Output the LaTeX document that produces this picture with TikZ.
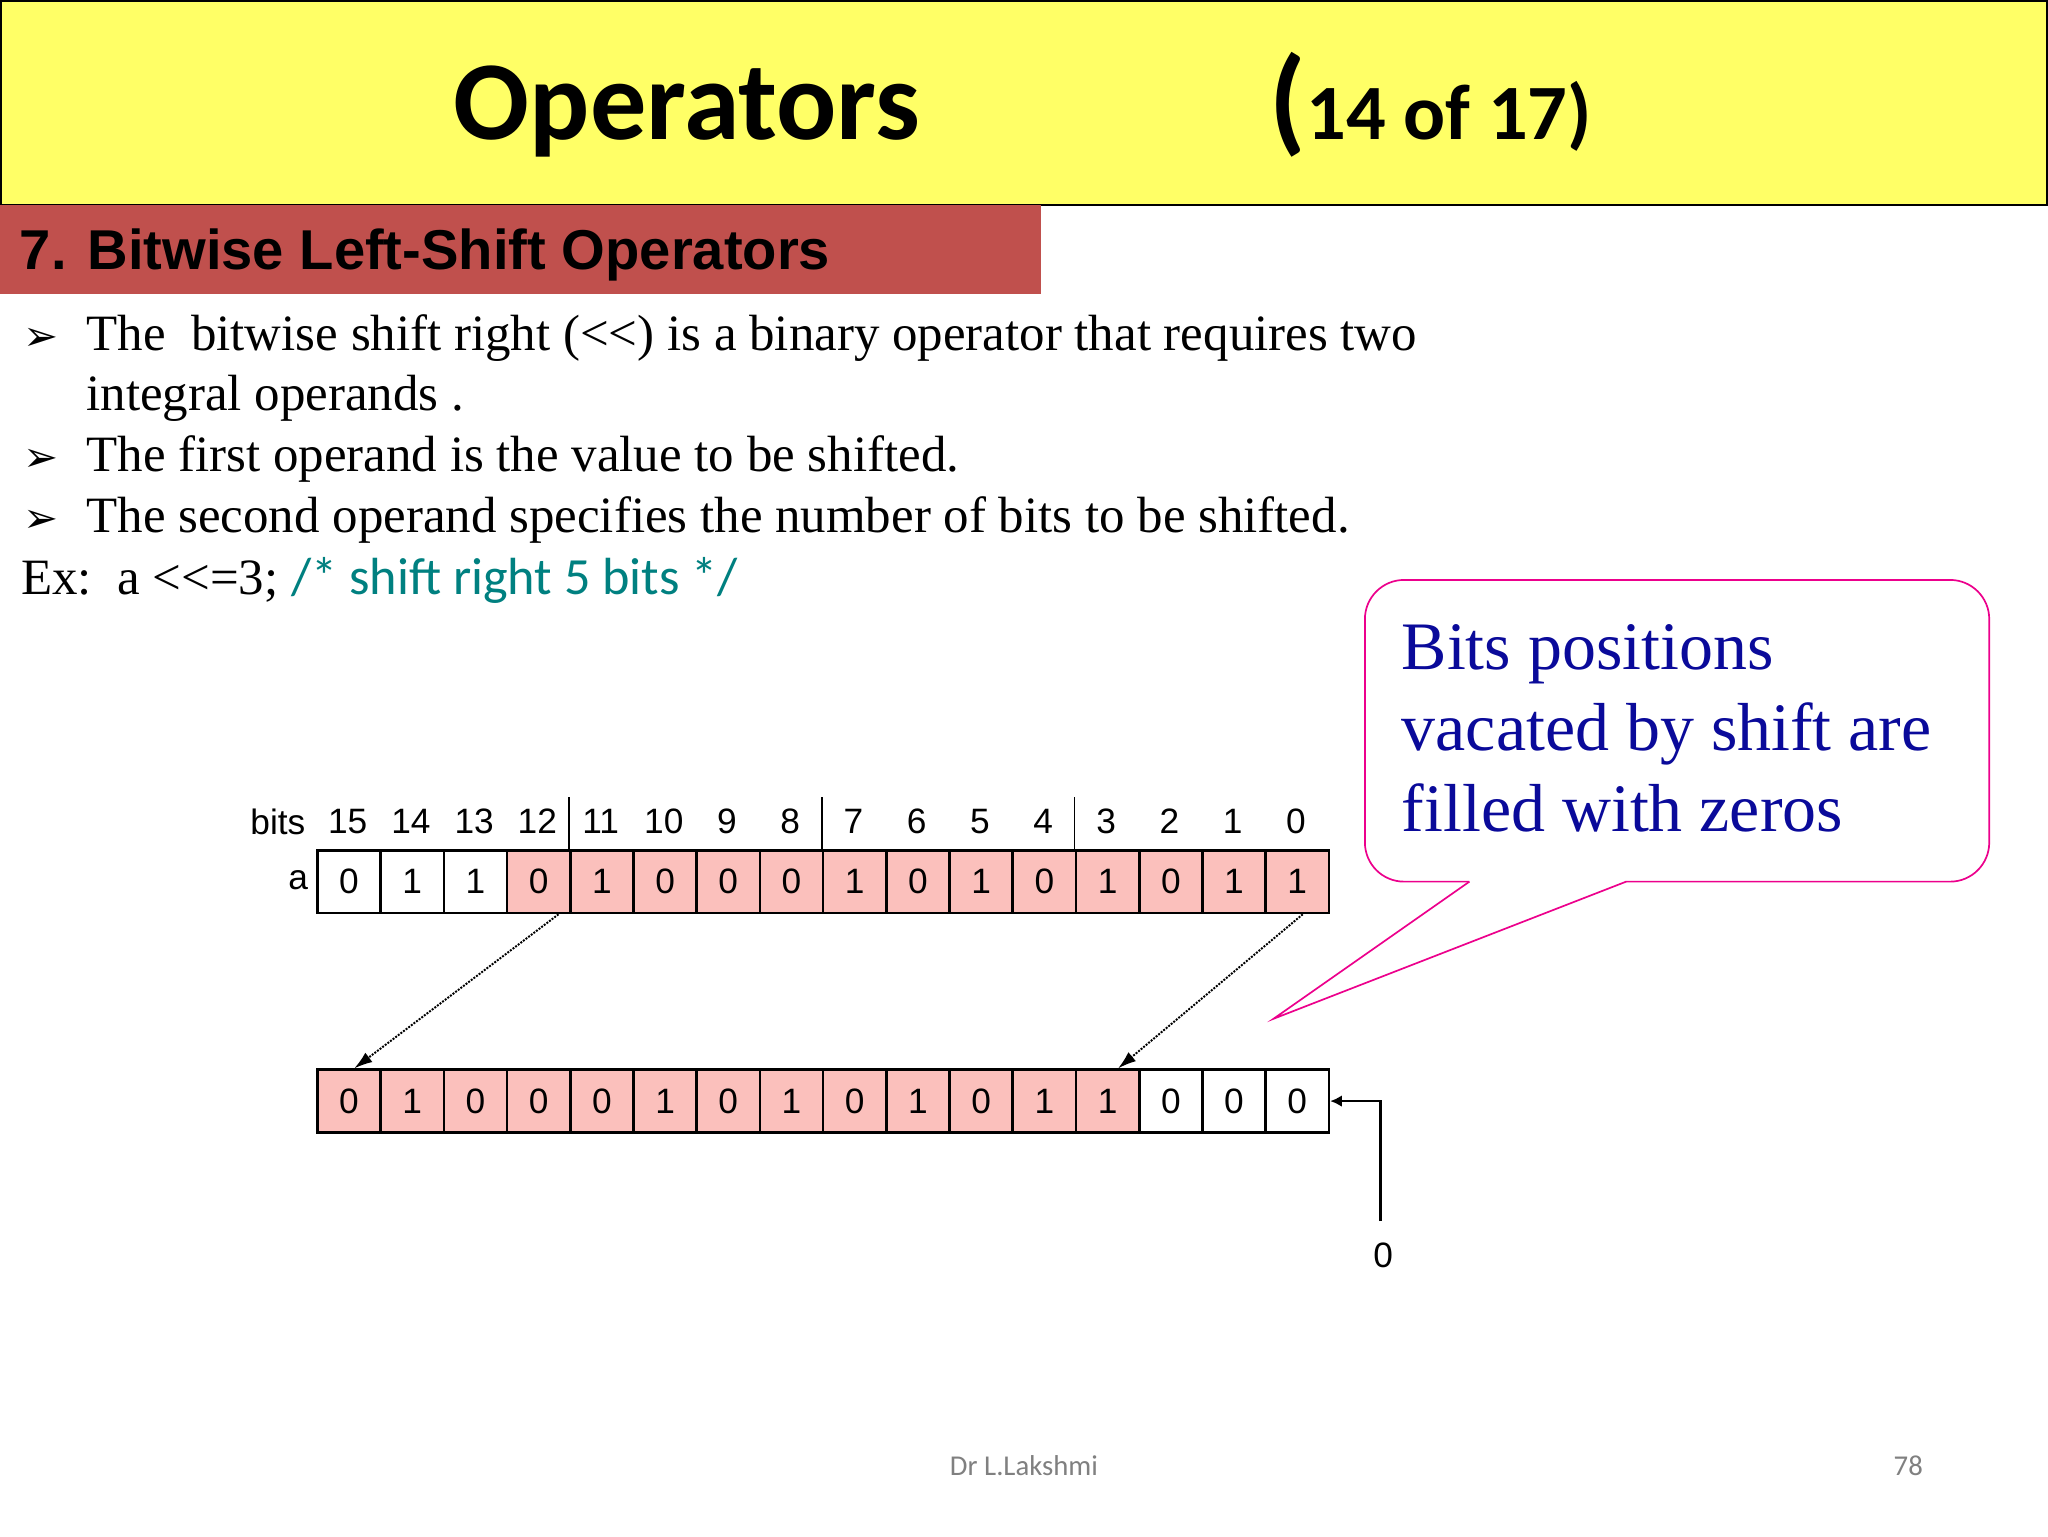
\documentclass[tikz,border=0pt]{standalone}
\usepackage{fontspec}
\setmainfont{Liberation Serif}
\newfontfamily\calf{Carlito}
\newfontfamily\ari{Liberation Sans}
\newfontfamily\dvs{DejaVu Sans}
\usetikzlibrary{arrows.meta}
\definecolor{ybg}{HTML}{FFFF66}
\definecolor{rbar}{HTML}{C0504D}
\definecolor{pinkc}{HTML}{FBC0BC}
\definecolor{teal2}{HTML}{008080}
\definecolor{dblue}{HTML}{0A0A9A}
\tikzset{
 cell/.style={draw=black,line width=2pt,minimum width=48.4pt,minimum height=48pt,inner sep=0pt,font=\ari\fontsize{27}{27}\selectfont,anchor=north west},
 bitlbl/.style={font=\ari\fontsize{27}{27}\selectfont,inner sep=0pt},
 bul/.style={anchor=base west,inner sep=0pt,font=\fontsize{39}{39}\selectfont},
 arr/.style={densely dotted,line width=1.5pt,-{Latex[length=14pt,width=9pt]}}
}
\begin{document}
\begin{tikzpicture}[x=1pt,y=-1pt]
\useasboundingbox (0,0) rectangle (1568,1176);
\fill[white] (0,0) rectangle (1568,1176);
\draw[fill=ybg,line width=1.5pt] (0.75,0.75) rectangle (1567.25,157);
\node[font=\calf\bfseries\fontsize{86}{86}\selectfont,anchor=base] (title) at (526,107) {Operators};
\node[font=\calf\bfseries\fontsize{60}{60}\selectfont,anchor=base west,inner sep=0pt] (pg) at (972,107) {{\fontsize{90}{90}\selectfont(}14 of 17)};
\fill[rbar] (0,157) rectangle (797,225);
\node[font=\ari\bfseries\fontsize{43}{43}\selectfont,anchor=base west,inner sep=0pt] (sec) at (15,206) {7. Bitwise Left-Shift Operators};
\foreach \y in {268,361,408} \node[bul,font=\dvs\fontsize{32}{32}\selectfont] at (18,\y) {➢};
\node[bul] (b1) at (66,268) {The\ \ bitwise shift right ({<}{<}) is a binary operator that requires two};
\node[bul] (b1b) at (66,314) {integral operands .};
\node[bul] (b2) at (66,361) {The first operand is the value to be shifted.};
\node[bul] (b3) at (66,408) {The second operand specifies the number of bits to be shifted.};
\node[bul] (ex) at (16,455) {Ex:\ \ a {<}{<}=3; {\calf\fontsize{40}{40}\selectfont\color{teal2}/* shift right 5 bits */}};
% callout
\draw[magenta,line width=1.3pt,fill=white,rounded corners=30pt] (1125,675) -- (1045,675) -- (1045,444) -- (1523,444) -- (1523,675) -- (1245,675);
\draw[magenta,line width=1.3pt,line join=miter] (1125,675) -- (975,780) -- (1245,675);
\node[font=\fontsize{52}{62}\selectfont,text=dblue,anchor=north west,align=left,inner sep=0pt] (call) at (1073,478) {Bits positions\\vacated by shift are\\filled with zeros};
% bit rows
\def\rowA{0,1,1,0,1,0,0,0,1,0,1,0,1,0,1,1}
\def\rowB{0,1,0,0,0,1,0,1,0,1,0,1,1,0,0,0}
\foreach \v [count=\i from 0] in \rowA {
  \ifnum\i<3 \def\fc{white}\else\def\fc{pinkc}\fi
  \node[cell,fill=\fc] (a\i) at ({242+48.4*\i},650) {\v};
  \pgfmathtruncatemacro\b{15-\i}
  \node[bitlbl] (l\i) at ({266.2+48.4*\i},629) {\b};
}
\foreach \v [count=\i from 0] in \rowB {
  \ifnum\i<13 \def\fc{pinkc}\else\def\fc{white}\fi
  \node[cell,fill=\fc] (b\i) at ({242+48.4*\i},818) {\v};
}
\node[bitlbl,anchor=east] (bits) at (234,629) {bits};
\node[bitlbl,anchor=east] (alab) at (236,674) {a};
\foreach \i in {4,8,12} \draw[line width=1.2pt] (a\i.north west) -- ++(0,-40);
\draw[arr] ([xshift=-10pt]a3.south east) -- ([xshift=4pt]b0.north);
\draw[arr] ([xshift=-21pt]a15.south east) -- ([xshift=8pt]b12.north);
\coordinate (zc) at (1057,935);
\draw[line width=2pt,-{Latex[length=9pt,width=9pt]}] (zc) |- (b15.east);
\node[bitlbl] (zero) at (1059,961) {0};
\node[font=\calf\fontsize{22}{22}\selectfont,text=gray] (auth) at (784,1122) {Dr L.Lakshmi};
\node[font=\calf\fontsize{22}{22}\selectfont,text=gray] (pno) at (1461,1122) {78};
\end{tikzpicture}
\end{document}
